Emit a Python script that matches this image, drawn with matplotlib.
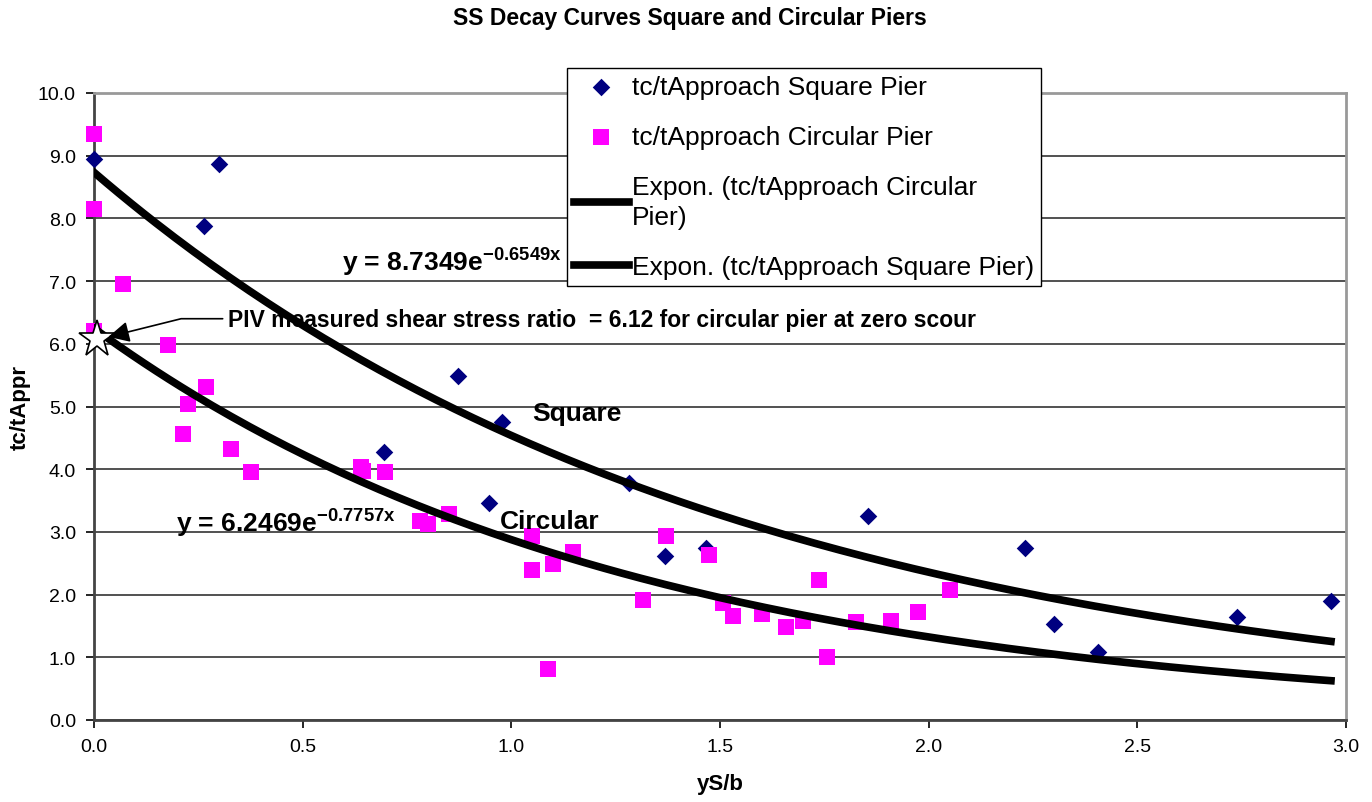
import numpy as np
import matplotlib.pyplot as plt

plt.rcParams['font.family'] = ['Liberation Sans', 'DejaVu Sans']
plt.rcParams['mathtext.fontset'] = 'custom'
plt.rcParams['mathtext.rm'] = 'Liberation Sans'
plt.rcParams['mathtext.bf'] = 'Liberation Sans:bold'

# datos
x_square = [0.0, 0.30, 0.264, 0.872, 0.978, 0.695, 0.947, 1.282, 1.368, 1.467,
            1.855, 2.23, 2.30, 2.406, 2.739, 2.964]
y_square = [8.95, 8.87, 7.88, 5.49, 4.75, 4.27, 3.46, 3.78, 2.62, 2.74,
            3.25, 2.74, 1.53, 1.08, 1.64, 1.90]

x_circ = [0.0, 0.0, 0.0, 0.07, 0.177, 0.268, 0.225, 0.213, 0.328, 0.376,
          0.64, 0.645, 0.697, 0.78, 0.80, 0.85, 1.05, 1.05, 1.10, 1.148,
          1.088, 1.316, 1.37, 1.474, 1.507, 1.53, 1.60, 1.658, 1.70, 1.737,
          1.756, 1.825, 1.91, 1.975, 2.05]
y_circ = [9.35, 8.15, 6.2, 6.95, 5.98, 5.31, 5.04, 4.56, 4.32, 3.96,
          4.04, 3.97, 3.95, 3.17, 3.12, 3.29, 2.93, 2.40, 2.49, 2.68,
          0.81, 1.91, 2.94, 2.63, 1.87, 1.66, 1.69, 1.48, 1.58, 2.23,
          1.00, 1.56, 1.58, 1.73, 2.08]

# lineas de tendencia exponencial (Excel)
a_square, b_square = 8.7349, -0.6549
a_circ, b_circ = 6.2469, -0.7757
x_fit_max = 2.964

# punto PIV
x_piv, y_piv = 0.007, 6.08

fig = plt.figure(figsize=(13.72, 8.03), dpi=100)
ax = fig.add_axes([94/1372, 82/803, 1252/1372, 627/803])

xf = np.linspace(0, x_fit_max, 200)
ax.scatter(x_square, y_square, marker='D', s=80, color='#000080', zorder=3,
           label='tc/tApproach Square Pier', linewidths=0, clip_on=False)
ax.scatter(x_circ, y_circ, marker='s', s=135, color='#ff00ff', zorder=3,
           label='tc/tApproach Circular Pier', linewidths=0, clip_on=False)
ax.plot(xf, a_circ * np.exp(b_circ * xf), color='black', lw=5.5, zorder=4,
        label='Expon. (tc/tApproach Circular\nPier)')
ax.plot(xf, a_square * np.exp(b_square * xf), color='black', lw=5.5, zorder=4,
        label='Expon. (tc/tApproach Square Pier)')

ax.plot([x_piv], [y_piv], marker='*', markersize=28, markerfacecolor='white',
        markeredgecolor='black', markeredgewidth=1.2, zorder=5, clip_on=False)

ax.set_xlim(0, 3.0)
ax.set_ylim(0, 10.0)
ax.set_xticks(np.arange(0, 3.01, 0.5))
ax.set_yticks(np.arange(0, 10.01, 1.0))
ax.xaxis.set_major_formatter(plt.FormatStrFormatter('%.1f'))
ax.yaxis.set_major_formatter(plt.FormatStrFormatter('%.1f'))
ax.tick_params(labelsize=14, direction='out', length=6, width=1.2, pad=7)
ax.yaxis.grid(True, color='#333333', lw=1.2)
ax.set_axisbelow(True)
for side in ['top', 'right']:
    ax.spines[side].set_color('#999999')
    ax.spines[side].set_linewidth(2)
for side in ['left', 'bottom']:
    ax.spines[side].set_color('#444444')
    ax.spines[side].set_linewidth(2)

ax.set_xlabel('yS/b', fontsize=16, fontweight='bold', labelpad=13)
ax.set_ylabel('tc/tAppr', fontsize=16, fontweight='bold', labelpad=5)
fig.text(0.503, 1 - 18/803, 'SS Decay Curves Square and Circular Piers',
         fontsize=16.5, fontweight='bold', ha='center', va='center')

ax.text(0.594, 7.32, 'y = 8.7349e$^{\\mathbf{-0.6549x}}$', fontsize=19,
        fontweight='bold', va='center', ha='left')
ax.text(0.196, 3.17, 'y = 6.2469e$^{\\mathbf{-0.7757x}}$', fontsize=19,
        fontweight='bold', va='center', ha='left')
ax.text(1.05, 4.9, 'Square', fontsize=19, fontweight='bold', va='center')
ax.text(0.973, 3.17, 'Circular', fontsize=19, fontweight='bold', va='center')

ax.text(0.32, 6.38, 'PIV measured shear stress ratio  = 6.12 for circular pier at zero scour',
        fontsize=16.5, fontweight='bold', va='center', ha='left', zorder=6)
ax.annotate('', xy=(0.028, 6.1), xytext=(0.315, 6.4),
            arrowprops=dict(arrowstyle='-|>', color='black', lw=1.2,
                            mutation_scale=32,
                            connectionstyle='angle,angleA=0,angleB=14,rad=0'),
            zorder=6)

leg = ax.legend(loc='upper left', bbox_to_anchor=(567/1372, 1 - 69/803),
                bbox_transform=fig.transFigure, fontsize=19, frameon=True,
                fancybox=False, edgecolor='black', framealpha=1,
                handlelength=2.1, handletextpad=0.12, labelspacing=1.0,
                borderpad=0.25, borderaxespad=0)
leg.get_frame().set_linewidth(1.0)
leg.get_texts()[2].set_linespacing(1.3)
leg.set_zorder(10)

fig.savefig('out.png', dpi=100)
